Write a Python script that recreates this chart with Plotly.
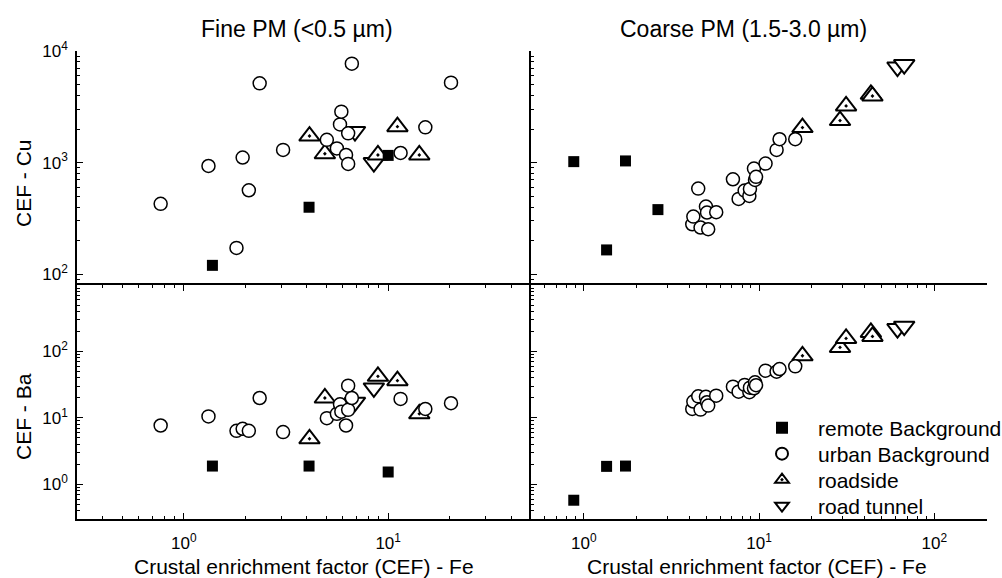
import math
import plotly.graph_objects as go

# ---------------- data ----------------
categories = ["remote Background", "urban Background", "roadside", "road tunnel"]

# Fine PM (<0.5 µm)
fine_remote_fe = [1.38, 4.10, 10.0]
fine_remote_cu = [120, 398, 1160]
fine_remote_ba = [1.88, 1.88, 1.53]

fine_urban_fe = [0.77, 1.32, 1.81, 1.94, 2.08, 2.35, 3.06, 5.01, 5.61, 5.81, 5.90, 6.22, 6.37, 6.37, 6.64, 11.5, 15.2, 20.3]
fine_urban_cu = [427, 933, 172, 1110, 565, 5130, 1300, 1600, 1340, 2200, 2860, 1170, 1830, 973, 7700, 1220, 2070, 5200]
fine_urban_ba = [7.67, 10.5, 6.38, 6.84, 6.38, 19.9, 6.10, 9.89, 11.5, 16.0, 12.4, 7.67, 30.5, 13.2, 19.9, 19.3, 13.6, 16.6]

fine_road_fe = [4.12, 4.90, 8.91, 11.1, 14.2]
fine_road_cu = [1730, 1200, 1170, 2100, 1170]
fine_road_ba = [4.84, 19.9, 42.2, 36.3, 11.5]

fine_tunnel_fe = [6.88, 8.51]
fine_tunnel_cu = [1900, 1000]
fine_tunnel_ba = [17.2, 28.2]

# Coarse PM (1.5-3.0 µm)
coarse_remote_fe = [0.877, 1.35, 1.73, 2.65]
coarse_remote_cu = [1020, 165, 1035, 379]
coarse_remote_ba = [0.575, 1.86, 1.88, None]

coarse_urban_fe = [4.16, 4.22, 4.50, 4.64, 4.98, 5.05, 5.13, 5.70, 7.10, 7.65, 8.28, 8.81, 8.88, 9.36, 9.49, 9.62, 10.9, 12.6, 13.1, 16.1]
coarse_urban_cu = [280, 328, 585, 262, 404, 357, 253, 359, 709, 473, 561, 503, 581, 883, 700, 745, 980, 1300, 1620, 1620]
coarse_urban_ba = [13.6, 17.6, 21.1, 13.3, 20.7, 17.2, 15.3, 21.6, 29.5, 24.8, 31.3, 24.3, 28.5, 27.9, 34.3, 31.0, 51.3, 49.5, 54.3, 59.6]

coarse_road_fe = [17.7, 29.0, 31.4, 43.5, 44.4]
coarse_road_cu = [2060, 2380, 3220, 4090, 3950]
coarse_road_ba = [86, 115, 157, 193, 168]

coarse_tunnel_fe = [61.7, 67.4]
coarse_tunnel_cu = [7190, 7550]
coarse_tunnel_ba = [221, 240]

panel_titles = ["Fine PM (<0.5 µm)", "Coarse PM (1.5-3.0 µm)"]
x_title = "Crustal enrichment factor (CEF) - Fe"
y_titles = ["CEF - Cu", "CEF - Ba"]

# ---------------- styling ----------------
W, H = 1002, 578
FONT = "Arial, 'Liberation Sans', sans-serif"

styles = {
    "remote Background": dict(symbol="square", size=11, color="black", line=dict(width=0, color="black")),
    "urban Background": dict(symbol="circle", size=13, color="white", line=dict(width=1.5, color="black")),
    "roadside": dict(symbol="triangle-up-dot", size=18, color="white", line=dict(width=2, color="black")),
    "road tunnel": dict(symbol="triangle-down", size=18, color="white", line=dict(width=2, color="black")),
}
draw_order = ["road tunnel", "roadside", "urban Background", "remote Background"]
legend_ids = {"remote Background": "legend", "urban Background": "legend2",
              "roadside": "legend3", "road tunnel": "legend4"}
legend_rows = {"remote Background": 428, "urban Background": 454,
               "roadside": 480, "road tunnel": 506}

fine = {
    "remote Background": (fine_remote_fe, fine_remote_cu, fine_remote_ba),
    "urban Background": (fine_urban_fe, fine_urban_cu, fine_urban_ba),
    "roadside": (fine_road_fe, fine_road_cu, fine_road_ba),
    "road tunnel": (fine_tunnel_fe, fine_tunnel_cu, fine_tunnel_ba),
}
coarse = {
    "remote Background": (coarse_remote_fe, coarse_remote_cu, coarse_remote_ba),
    "urban Background": (coarse_urban_fe, coarse_urban_cu, coarse_urban_ba),
    "roadside": (coarse_road_fe, coarse_road_cu, coarse_road_ba),
    "road tunnel": (coarse_tunnel_fe, coarse_tunnel_cu, coarse_tunnel_ba),
}

# bottom-left: x/y, bottom-right: x2/y2, top-left: x3/y3, top-right: x4/y4
panels = [
    (fine, 1, "x3", "y3"),
    (coarse, 1, "x4", "y4"),
    (fine, 2, "x", "y"),
    (coarse, 2, "x2", "y2"),
]

fig = go.Figure()
for pi, (ds, col, xa, ya) in enumerate(panels):
    for cat in draw_order:
        fig.add_trace(go.Scatter(
            x=ds[cat][0], y=ds[cat][col], mode="markers", name=cat,
            marker=styles[cat], xaxis=xa, yaxis=ya,
            showlegend=(pi == 0), legend=legend_ids[cat],
            cliponaxis=False,
        ))

def px_x(p):
    return p / W

def px_y(p):
    return 1 - p / H

def minor_vals(lo, hi):
    return [m * 10.0 ** e for e in range(lo, hi + 1) for m in range(2, 10)]

def sup(e):
    return "10<sup>%d</sup>" % e

XL = [px_x(77), px_x(531)]
XR = [px_x(531), px_x(987)]
YT = [px_y(285), px_y(51)]
YB = [px_y(519), px_y(285)]

common = dict(type="log", showline=True, linecolor="black", linewidth=1.5,
              showgrid=False, zeroline=False, ticks="inside", ticklen=6, tickwidth=1,
              tickcolor="black", tickfont=dict(family=FONT, size=17, color="black"))

def xaxis(domain, rng, anchor, labels, decs):
    d = dict(common, domain=domain, range=[math.log10(rng[0]), math.log10(rng[1])], anchor=anchor,
             tickmode="array", tickvals=[10.0 ** e for e in decs], ticktext=[sup(e) for e in decs],
             minor=dict(tickmode="array", tickvals=minor_vals(decs[0] - 1, decs[-1] + 1),
                        ticks="inside", ticklen=3, tickwidth=1, tickcolor="black"))
    if labels:
        d["mirror"] = "ticks"
        d["ticklabelstandoff"] = 8
    else:
        d["showticklabels"] = False
        d["showline"] = False
        d["ticks"] = ""
        d["minor"] = dict(ticks="")
    return d

def yaxis(domain, rng, anchor, labels, decs):
    d = dict(common, domain=domain, range=[math.log10(rng[0]), math.log10(rng[1])], anchor=anchor,
             tickmode="array", tickvals=[10.0 ** e for e in decs], ticktext=[sup(e) for e in decs],
             minor=dict(tickmode="array", tickvals=minor_vals(decs[0] - 1, decs[-1] + 1),
                        ticks="inside", ticklen=3, tickwidth=1, tickcolor="black"),
             ticklabelstandoff=4)
    if not labels:
        d["showticklabels"] = False
    return d

legend_layout = {}
for cat in categories:
    legend_layout[legend_ids[cat]] = dict(
        x=px_x(746), y=px_y(legend_rows[cat]), xanchor="left", yanchor="middle",
        bgcolor="rgba(0,0,0,0)", font=dict(family=FONT, size=21, color="black"),
        itemwidth=62, itemsizing="constant")

fig.update_layout(
    width=W, height=H,
    margin=dict(l=0, r=0, t=0, b=0, autoexpand=False),
    paper_bgcolor="white", plot_bgcolor="white",
    font=dict(family=FONT, color="black"),
    xaxis=xaxis(XL, (0.3, 50), "y", True, [0, 1]),
    yaxis=yaxis(YB, (0.3, 1000), "x", True, [0, 1, 2]),
    xaxis2=xaxis(XR, (0.5, 200), "y2", True, [0, 1, 2]),
    yaxis2=yaxis(YB, (0.3, 1000), "x2", False, [0, 1, 2]),
    xaxis3=xaxis(XL, (0.3, 50), "y3", False, [0, 1]),
    yaxis3=yaxis(YT, (80, 10000), "x3", True, [2, 3, 4]),
    xaxis4=xaxis(XR, (0.5, 200), "y4", False, [0, 1, 2]),
    yaxis4=yaxis(YT, (80, 10000), "x4", False, [2, 3, 4]),
    showlegend=True,
    **legend_layout,
)

annotations = [
    dict(text=panel_titles[0], x=px_x(297), y=px_y(29)),
    dict(text=panel_titles[1], x=px_x(743), y=px_y(29)),
    dict(text=x_title, x=px_x(304), y=px_y(566)),
    dict(text=x_title, x=px_x(757), y=px_y(566)),
    dict(text=y_titles[0], x=px_x(23), y=px_y(183), textangle=-90),
    dict(text=y_titles[1], x=px_x(23), y=px_y(417), textangle=-90),
]
for i, a in enumerate(annotations):
    a.update(xref="paper", yref="paper", showarrow=False, xanchor="center", yanchor="middle",
             font=dict(family=FONT, size=23 if i < 2 else 21, color="black"))
fig.update_layout(annotations=annotations)

fig.write_html("out.html")
